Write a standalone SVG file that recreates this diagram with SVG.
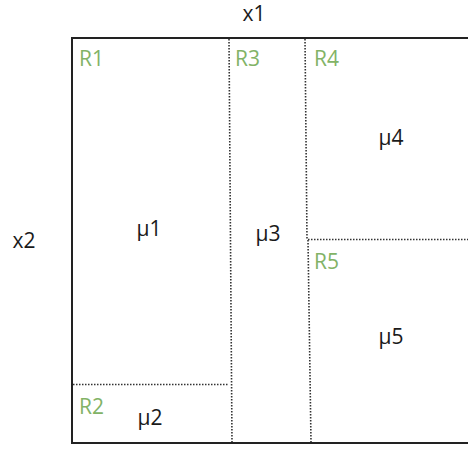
<svg xmlns="http://www.w3.org/2000/svg" width="468" height="450" viewBox="0 0 468 450">
<style>
text{font-family:"Open Sans","Noto Sans",sans-serif;font-size:21px;}
.lab{fill:#1a1a1a;text-anchor:middle;}
.r{fill:#82b366;}
.d{stroke:#333;stroke-width:1.6;stroke-dasharray:1.5 1.5;fill:none;}
</style>
<rect width="468" height="450" fill="#fff"/>
<g id="frame"><path d="M472 38 H72 V443 H472" fill="none" stroke="#222" stroke-width="2"/></g>
<g id="connectors">
<path class="d" d="M229 39 L232 442"/>
<path class="d" d="M305 39 L307 239"/>
<path class="d" d="M308 240 L311 442"/>
<path class="d" d="M73 384.5 H229"/>
<path class="d" d="M308 239.5 H468"/>
</g>
<g id="axes">
<text class="lab" x="254" y="21">x1</text>
<text class="lab" x="24" y="248">x2</text>
</g>
<g id="R1"><text class="r" x="79" y="66">R1</text><text class="lab" x="149" y="236">μ1</text></g>
<g id="R2"><text class="r" x="79" y="414">R2</text><text class="lab" x="150" y="425">μ2</text></g>
<g id="R3"><text class="r" x="235" y="66">R3</text><text class="lab" x="268" y="241">μ3</text></g>
<g id="R4"><text class="r" x="314" y="66">R4</text><text class="lab" x="391" y="145">μ4</text></g>
<g id="R5"><text class="r" x="314" y="269">R5</text><text class="lab" x="391" y="344">μ5</text></g>
</svg>
